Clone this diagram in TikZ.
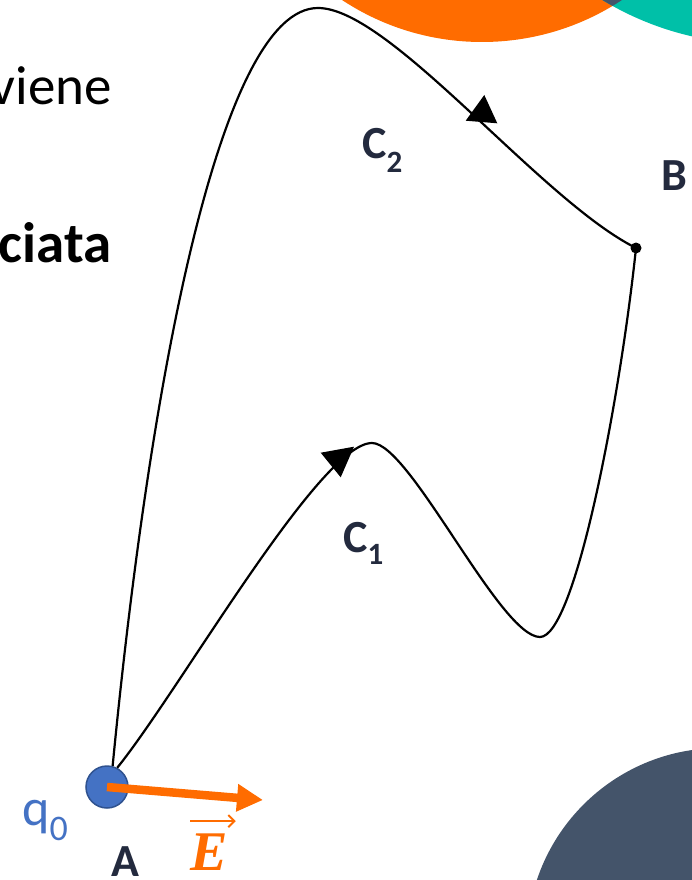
\documentclass[tikz,border=0pt]{standalone}
\usepackage{fontspec}
\setmainfont{Carlito}
\newfontfamily\efont{Liberation Serif}
\usetikzlibrary{arrows.meta}
\definecolor{navy}{HTML}{232A3E}
\definecolor{orng}{HTML}{FF6C00}
\definecolor{tealc}{HTML}{00C0A8}
\definecolor{slate}{HTML}{44546A}
\definecolor{qblue}{HTML}{4472C4}
\definecolor{qborder}{HTML}{2F528F}
\newcommand\fsz[1]{\fontsize{#1}{#1}\selectfont}
\begin{document}
\begin{tikzpicture}[x=1pt,y=-1pt,
  curve/.style={line width=2.2pt, black},
  lbl/.style={inner sep=0pt, font=\fsz{46}\bfseries, text=navy, anchor=base west},
  tri/.style={fill=black}]
\useasboundingbox (0,0) rectangle (692,880);
% background discs
\begin{scope}
  \clip (0,0) rectangle (692,880);
  \fill[orng] (482,-212) circle (254);
  \fill[tealc] (760,-260) circle (304);
  \begin{scope}
    \clip (482,-212) circle (254);
    \fill[slate] (760,-260) circle (304);
  \end{scope}
  \fill[slate] (720,941) circle (193);
\end{scope}
% clipped slide text
\node[anchor=base east, inner sep=0pt, font=\fsz{55}] (t1) at (112,105) {viene};
\node[anchor=base east, inner sep=0pt, font=\fsz{57}\bfseries] (t2) at (112,262) {ciata};
% points
\node[circle, fill=qblue, draw=qborder, line width=1.5pt, minimum size=42pt, inner sep=0pt] (qA) at (107,787) {};
\node[circle, fill=black, inner sep=0pt, minimum size=11pt] (ptB) at (636,248) {};
\coordinate (c2top) at (318,8);
\coordinate (c1top) at (372,443);
\coordinate (c1bot) at (540,637);
% paths
\draw[curve] (qA.75) .. controls (150,380) and (220,8) .. (c2top)
  .. controls (390,8) and (540,200) .. (ptB.center);
\draw[curve] (qA.62) .. controls (180,690) and (320,443) .. (c1top)
  .. controls (410,443) and (500,637) .. (c1bot)
  .. controls (575,637) and (620,400) .. (ptB.center);
\fill[tri] (465.7,120.7) -- (484.3,95) -- (497.3,123.3) -- cycle;
\fill[tri] (320.7,452.7) -- (354,446.7) -- (340.7,477.3) -- cycle;
% field vector
\coordinate (Etip) at (263,800);
\draw[orng, line width=8.5pt, -{Triangle[length=26pt,width=26pt]}] (qA.center) -- (Etip);
% labels
\node[lbl] (lC2) at (362,158) {C\raisebox{-14pt}{\fsz{31}2}};
\node[lbl] (lC1) at (343,552) {C\raisebox{-12pt}{\fsz{31}1}};
\node[lbl] (lB) at (661,190) {B};
\node[lbl] (lA) at (111,876) {A};
\node[anchor=base west, inner sep=0pt, text=qblue, font=\fsz{52}] (lq) at (22,825) {q\raisebox{-15pt}{\fsz{36}0}};
\node[anchor=base west, inner sep=0pt, text=orng, font=\fsz{56}\efont\bfseries\itshape] (lE) at (190,870) {E};
\draw[orng, line width=2pt, -{Straight Barb[length=6pt,width=12pt]}] ([yshift=12pt]lE.north west) -- ([xshift=8pt,yshift=12pt]lE.north east);
\end{tikzpicture}
\end{document}
